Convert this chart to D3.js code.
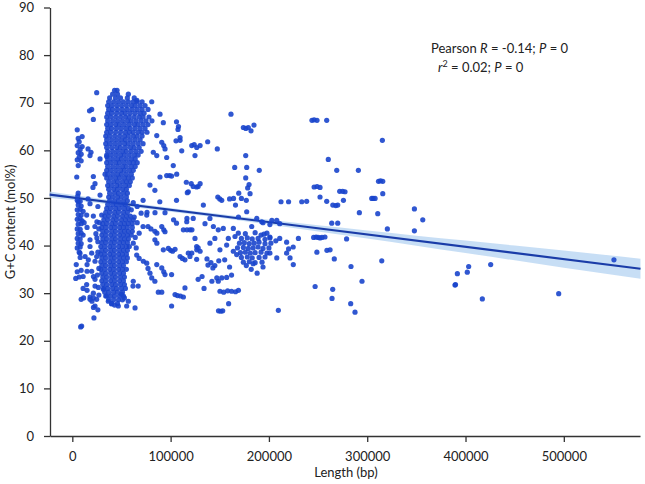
<!DOCTYPE html>
<html lang="en">
<head>
<meta charset="UTF-8">
<title>G+C content vs length</title>
<style>
  body { margin: 0; background: #fff; }
  svg { display: block; font-family: Lato, 'Open Sans', sans-serif; }
  .axis path, .axis line { stroke: #333; stroke-width: 1.3px; }
  .axis text { fill: #222; font-size: 13px; font-family: Lato, 'Open Sans', sans-serif; }
  .label { fill: #222; font-size: 13px; }
</style>
</head>
<body>
<div id="chart"></div>
<script src="https://d3js.org/d3.v7.min.js"></script>
<script>
// lengths are in kb, G+C in mol%
const xTicks = [0, 100000, 200000, 300000, 400000, 500000];
const yTicks = [0, 10, 20, 30, 40, 50, 60, 70, 80, 90];

// fitted line: intercept (mol%) and slope (mol% per kb)
const fitLine = [50.1, -0.0259];
// half width of the confidence band along x
const bandKb = [-23, 0, 50, 100, 150, 200, 250, 300, 350, 400, 450, 500, 578];
const bandHalf = [0.65, 0.55, 0.45, 0.4, 0.4, 0.5, 0.65, 0.85, 1.05, 1.3, 1.55, 1.8, 2.1];

// short contigs, left strip
const leftStrip = [
  [5,64.3],[6,62.5],[7,61.8],[10,62.9],[5,61],[10,60.8],[8,60.2],[6,59.5],[9,59.2],[7,58.6],[5,58],[9,57.8],[6,56.8],
  [4.5,54.4],[6,51],[5.5,50.4],[6.1,49.2],
  [5,49.5],[8,49.3],[6,48.5],[9,48.3],[5,47.5],[8,47.6],[11,47.2],[6,46.5],[9,46.4],[5,45.5],[8,45.6],[10,45.2],
  [6,44.5],[9,44.6],[5,43.5],[8,43.4],[6,42.5],[9,42.6],[11,42.2],[5,41.5],[8,41.4],[6,40.5],[9,40.4],[5,39.5],
  [8,39.7],[7,38.6],[8,37.5],
  [4,36],[5,34.5],[7,33.4],[3.5,33.1],[15,36],[15,34.6],[11,31],[11.5,29],[9,28.7],[15,30.6],[18,29.2],[20,28.3],
  [21.5,27],[8.5,22.9],[9.5,23.1],[22,24.8],
  [24.8,72.1],[19.7,68.6],[17.5,68.3],[21.4,66.5],[16,60.3],[19,59.6],[18,58.9],[28.2,58.2],[35,58.7],[21.4,54.5],
  [23.1,53],[21,52.2],[33.3,55],[18,48.8],[28.2,50.6],[16,49.8],[26,48.2],
  [14.6,46.4],[21.4,46.2],[29.9,46.4],[25,45],[27,43.5],[24,42.5],[23,44],[26,40.8],[15,43.8],[12,44.8],[18,41.2],
  [18,39.8],[19.7,38.4],[7.8,38.4],[13,37.7],[16.3,37],[24.8,37.7],[23.1,36.7],[19.7,34.6],[21.5,33.5],[23.1,32.9],
  [9,34.8],[11,33.5],[14.6,31.8],[23.1,31.5],[21.4,30],[21.4,29],[18,28.7],[24.8,28.7],[23.1,27.3],[26,26.5],
  [26,38.6],[27,35.2],[25.5,33.8],[26.5,31.2],[27,29.6],[25,41.6],[27.5,44.8]
];

// the dense column, one row per G+C level
const columnRows = [
  [72.6, [43, 45.5]],
  [71.8, [41, 46, 57]],
  [71.0, [38, 44, 49, 56, 63]],
  [70.2, [37, 42, 47, 52, 57, 62, 66, 71]],
  [69.4, [36, 40, 45, 50, 55, 60, 64, 69, 74]],
  [68.6, [37, 41, 46, 51, 56, 61, 66, 71, 77]],
  [67.8, [36, 40, 45, 50, 54, 59, 64, 69, 73]],
  [67.0, [35, 39, 44, 49, 54, 58, 63, 68, 72, 78]],
  [66.2, [36, 41, 46, 51, 56, 60, 65, 70, 75, 81]],
  [65.4, [35, 39, 44, 48, 53, 58, 63, 67, 72, 77]],
  [64.6, [36, 40, 45, 50, 55, 59, 64, 69, 74]],
  [63.8, [35, 39, 44, 49, 54, 58, 62, 67, 71, 76]],
  [63.0, [34, 38, 43, 48, 53, 57, 62, 66, 71]],
  [62.2, [35, 40, 45, 50, 54, 59, 64, 69]],
  [61.4, [34, 38, 43, 48, 53, 57, 62, 67, 72]],
  [60.6, [35, 40, 45, 49, 54, 59, 63, 68]],
  [59.8, [36, 41, 46, 51, 55, 60, 65, 70]],
  [59.0, [35, 39, 44, 49, 53, 58, 63, 67]],
  [58.2, [36, 41, 46, 50, 55, 60, 64]],
  [57.4, [35, 39, 44, 48, 53, 58, 62, 66]],
  [56.6, [36, 41, 46, 51, 55, 60, 64]],
  [55.8, [35, 39, 44, 49, 53, 58, 62]],
  [55.0, [36, 41, 46, 50, 55, 60]],
  [54.2, [35, 39, 44, 48, 53, 57, 61]],
  [53.4, [37, 42, 46, 51, 55, 59]],
  [52.6, [36, 40, 45, 49, 54, 58]],
  [51.8, [37, 42, 46, 51, 55]],
  [51.0, [38, 43, 47, 52, 56]],
  [50.2, [37, 41, 46, 50, 55]],
  [49.4, [38, 43, 47, 52, 56]],
  [48.6, [36, 41, 45, 50, 54]],
  [47.8, [35, 39, 44, 48, 53, 57]],
  [47.0, [34, 38, 43, 47, 52, 56]],
  [46.2, [33, 37, 42, 46, 51, 55, 59]],
  [45.4, [32, 36, 41, 45, 50, 54, 58, 62]],
  [44.6, [31, 35, 40, 44, 49, 53, 57, 61]],
  [43.8, [30, 34, 39, 43, 48, 52, 56, 61]],
  [43.0, [31, 35, 40, 44, 49, 53, 57]],
  [42.2, [30, 34, 39, 43, 48, 52, 56, 60]],
  [41.4, [31, 35, 40, 44, 49, 53, 57]],
  [40.6, [30, 34, 39, 43, 48, 52, 56]],
  [39.8, [29, 33, 38, 42, 47, 51, 55, 58]],
  [39.0, [30, 34, 39, 43, 48, 52, 56]],
  [38.2, [29, 33, 38, 42, 47, 51, 55]],
  [37.4, [30, 34, 39, 43, 48, 52, 56]],
  [36.6, [29, 33, 38, 42, 47, 51, 55]],
  [35.8, [30, 34, 39, 43, 48, 52]],
  [35.0, [29, 33, 38, 42, 47, 51, 55]],
  [34.2, [30, 34, 39, 43, 48, 52]],
  [33.4, [31, 35, 40, 44, 49, 53]],
  [32.6, [30, 34, 39, 43, 48, 52]],
  [31.8, [31, 35, 40, 44, 49, 53]],
  [31.0, [32, 36, 41, 45, 50, 54]],
  [30.2, [33, 37, 42, 46, 51]],
  [29.4, [34, 39, 43, 48, 52]],
  [28.6, [37, 42, 47, 51]],
  [27.8, [40, 46]]
];

// scatter to the right of the column (60-170 kb)
const nearScatter = [
  [65.7,70.5],[80.8,70.2],[89.2,67.6],[92.6,65.8],[106,66],[108,65],[107.5,64.4],[109.6,62.7],[109.6,62.1],[105.5,62],
  [91,61.7],[93,61],[94.3,60.3],[85.9,63.1],[111.3,59.9],[121.5,61],[124,61.2],[126.6,60.6],[124.8,58.9],[102.7,56.8],
  [96,58.5],[82.4,59.6],[85.9,58.9],[96,54.7],[99,54.7],[101,54.6],[106.2,55],[89.2,54.4],[116,53.3],[121,53],
  [126.5,52.3],[118,51.3],[106,49.5],[84,51.6],[89,49.2],[79,52.7],[117,51.1],[123,52.4],[128,52.4],[130,53],
  [130,61],[137.7,61.8],[147.5,60.3],[133.3,48.5],[140,45.7],[113,43.3],[148,50.2],[150,49.8],[152,49.5],
  [60,47.5],[63,46],[66,44.8],[61,43],[64,41.7],[68,42.6],[62,40.5],[70,46.8],[72,44],[65,39.5],[62,49],[66,48.2],
  [72,49.5],[76,47],
  [77,44],[80,43.5],[84,43],[86,42.6],[91,44],[93,43.3],[94.3,42.9],[103,45.4],[106,44.7],[116.4,45],[119.7,43.3],
  [123,45.7],[94.3,46.9],[84.1,46.9],[75.7,46.4],[97.7,39.4],[100,39],[102,38.8],[104.5,39.2],[92.6,39.1],[84,41.2],
  [86,40.5],[109.6,37.7],[112,37.3],[114.6,37],[118,38.4],[121.5,38.4],[126.6,39.1],[124.8,41.5],[65.5,38],[68,37.3],
  [72.3,36.7],[75.7,36.3],[77,35.2],[79,34.2],[85.9,36],[91,35.3],[93,34.5],[94.3,33.9],[101,33.9],[80.8,33.2],
  [84,32.5],[62,32.5],[61.7,31.5],[67,31.5],[87.5,30.2],[91,30.2],[114.6,31.1],[104.5,29.7],[107,29.5],[110,29.4],
  [113,29.2],[63.8,26.9],[101,27.3],[128,32.9],
  [31.5,30.8],[35,29.4],[36.6,28.3],[40,27.8],[43,27.5],[46.8,27.3],[50,29.8],[53,29],[57,28.3],[55.3,27.3],
  [116.6,45.7],[121.7,43.3],[116.6,43.3],[126.5,39.8],[130,38.8],[128,39.5],[119.7,37.7],[126.5,37.1],[137,37.2],
  [141,36.4],[145,35.8],[149,36.8],[143,35.3],[138,35.9],[147,33.2],[152,33.2],[157,33.3],[142,32.5],[148.5,32.5],
  [150.2,30.4],[154,30.2],[158,30.5],[162,30.4],[166,30.3],[169,30.6],[135,44.6],[143.5,44],[148.5,43.3],[153.6,43.6],
  [158.7,41.5],[165.5,41.9],[168.9,42.6],[157,40.1],[167.2,38.1],[163.8,38.8],[150.2,39.1],[148.7,26.3],[151,26.2],
  [153,26.3],[159,27.8],[132,33.5],[134,31],[140,40.5],[145,41.5],[155,37],[160,35.5],[162,33.8]
];

// 160-210 kb group, including its dense core
const midCluster = [
  [161.4,67.6],[174,64.8],[176.5,64.6],[179,64.8],[184.8,65.3],[181.8,64.1],[176.4,58.9],[165.2,56.4],[177.4,56.4],
  [190.2,55.8],[176.4,54.2],[179.8,52.8],[169.3,51],[178.4,52.1],[180.8,50.9],[160,49.8],[164,49.9],[172,49.9],
  [177,49.5],[166,48.5],[169,46],[177.4,47.1],[187.6,45.7],[192.7,45],[163.8,43.6],[182.5,44],
  [176,42.5],[186,42.7],[195,42.4],
  [172,41.5],[178,41.6],[183,41.4],[189,41.5],[196,41.3],[201,41.6],
  [170,40.5],[175,40.6],[180,40.4],[185,40.5],[190,40.7],[196,40.4],[202,40.5],
  [168,39.5],[174,39.6],[179,39.4],[184,39.5],[189,39.7],[194,39.4],[200,39.5],
  [171,38.5],[176,38.6],[181,38.4],[186,38.5],[192,38.6],[198,38.4],
  [172,37.5],[178,37.6],[183,37.4],[190,37.5],[196,37.6],
  [174,36.5],[180,36.6],[186,36.4],[193,36.5],
  [177,35.8],[182,35],[188,34.2],[194,35.5],[184,36.2]
];

// 190-320 kb
const farScatter = [
  [194,44.8],[201,44.4],[211,44.6],[203,45.3],[208,45.3],[201,41.8],[207,41],[211,41.5],[218,40.7],[224.7,39.7],
  [220,39.3],[218,38.4],[221.5,37.4],[224.8,36],[230,41.5],[201,38.4],[208,37.4],[192,42.2],[198,42.6],
  [212.3,49.2],[220,49.2],[233.4,49.2],[238.4,49.3],[246,52.3],[249,52.4],[252,52.2],[252,50.2],[258.8,49.3],
  [265,48.5],[268,48.4],[270,48.5],[272,51.4],[275,51.4],[277.4,51.3],[275.8,49.5],[292,46.9],[269,55.8],[291,55.8],
  [260.4,58.1],[243.8,66.3],[246,66.4],[248.9,66.3],[258.8,66.3],
  [263.9,44.7],[270,44.7],[245.5,41.7],[248,41.8],[250,41.7],[252,41.6],[254,41.7],[257,41.8],[248.8,38.6],[259,39],
  [262.2,39.1],[266.5,37.2],[279,41.4],[283.5,35.6],[294.7,32.5],[247,31.4],[264.9,30.8],[264.2,28.9],[283.2,27.8],
  [287.6,26],[209.6,26.4]
];

// beyond 300 kb
const tail = [
  [315.4,62.1],[311.5,53.5],[313.5,53.6],[315.8,53.5],[315.8,50.9],[304.6,49.9],[306,49.9],[308,49.9],[310.7,46.7],
  [348,47.7],[356.5,45.4],[348,43.1],[320.5,43.5],[314.8,36.8],[391.7,34.1],[401.8,34.4],[403.2,35.6],[389.3,31.7],
  [389.8,31.8],[425.6,36],[417.1,28.8],[494.8,29.9],[551,37]
];

const points = leftStrip
  .concat(columnRows.flatMap(([gc, kbs]) => kbs.map(kb => [kb, gc])))
  .concat(nearScatter, midCluster, farScatter, tail);

const width = 645, height = 484;
const svg = d3.select("#chart").append("svg")
  .attr("width", width)
  .attr("height", height);

const x = d3.scaleLinear().domain([-22700, 577500]).range([50, 640]);
const y = d3.scaleLinear().domain([0, 90]).range([436, 7.5]);

svg.append("g")
  .attr("class", "axis")
  .attr("transform", "translate(0,436)")
  .call(d3.axisBottom(x).tickValues(xTicks).tickFormat(d3.format("d")).tickSize(6).tickSizeOuter(0).tickPadding(10));

svg.append("g")
  .attr("class", "axis")
  .attr("transform", "translate(50,0)")
  .call(d3.axisLeft(y).tickValues(yTicks).tickSize(6).tickSizeOuter(0).tickPadding(10));

// confidence band + fitted line (drawn under the points)
const fit = kb => fitLine[0] + fitLine[1] * kb;
const band = d3.area()
  .x(d => x(d * 1000))
  .y0((d, i) => y(fit(d) - bandHalf[i]))
  .y1((d, i) => y(fit(d) + bandHalf[i]))
  .curve(d3.curveMonotoneX);

svg.append("path")
  .datum(bandKb)
  .attr("d", band)
  .attr("fill", "#b9d6f2")
  .attr("opacity", 0.8);

const ends = [bandKb[0], bandKb[bandKb.length - 1]];
svg.append("path")
  .datum(ends)
  .attr("d", d3.line().x(d => x(d * 1000)).y(d => y(fit(d))))
  .attr("stroke", "#1a3ca8")
  .attr("stroke-width", 2.2)
  .attr("fill", "none");

svg.append("g")
  .selectAll("circle")
  .data(points)
  .join("circle")
  .attr("cx", d => x(d[0] * 1000))
  .attr("cy", d => y(d[1]))
  .attr("r", 2.6)
  .attr("fill", "#1a45cc")
  .attr("fill-opacity", 0.9);

// axis titles
svg.append("text")
  .attr("class", "label")
  .attr("transform", "translate(15,222) rotate(-90)")
  .attr("text-anchor", "middle")
  .text("G+C content (mol%)");

svg.append("text")
  .attr("class", "label")
  .attr("x", 346)
  .attr("y", 477)
  .attr("text-anchor", "middle")
  .text("Length (bp)");

// stats
const s1 = svg.append("text").attr("class", "label").attr("x", 431).attr("y", 53);
s1.append("tspan").text("Pearson ");
s1.append("tspan").attr("font-style", "italic").text("R");
s1.append("tspan").text(" = -0.14; ");
s1.append("tspan").attr("font-style", "italic").text("P");
s1.append("tspan").text(" = 0");

const s2 = svg.append("text").attr("class", "label").attr("x", 438).attr("y", 72);
s2.append("tspan").attr("font-style", "italic").text("r");
s2.append("tspan").attr("font-size", "9px").attr("dy", -5).text("2");
s2.append("tspan").attr("dy", 5).text(" = 0.02; ");
s2.append("tspan").attr("font-style", "italic").text("P");
s2.append("tspan").text(" = 0");
</script>
</body>
</html>
